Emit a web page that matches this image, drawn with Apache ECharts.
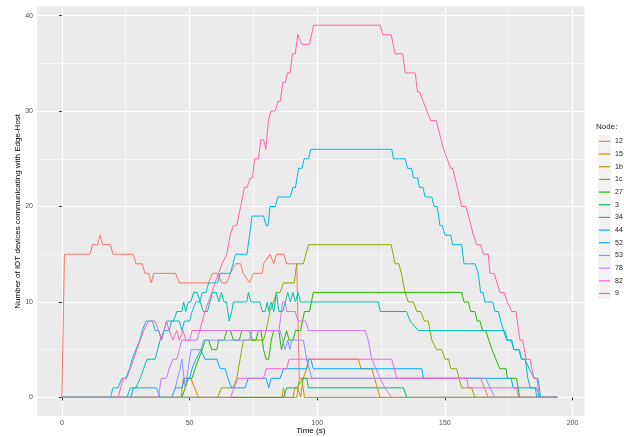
<!DOCTYPE html>
<html>
<head>
<meta charset="utf-8">
<script src="https://cdn.jsdelivr.net/npm/echarts@6/dist/echarts.min.js"></script>
<style>
html, body { margin: 0; padding: 0; background: #fff; }
#chart { width: 624px; height: 437px; }
</style>
</head>
<body>
<div id="chart"></div>
<script>
// node names, in legend order
var nodes = ['12', '15', '1b', '1c', '27', '3', '34', '44', '52', '53', '78', '82', '9'];

// [time (s), devices], one array per node
var node12 = [[0,0],[1,15],[11,15],[12,16],[14,16],[15,17],[16,16],[19,16],[20,15],[28,15],[29,14],[31.5,14],[32.5,13],[34,13],[35,12],[36,13],[44.5,13],[46,12],[57.5,12],[59,13],[61,13],[62.5,12],[64.5,12],[66,13],[68,14],[70,14],[71,13],[73.5,12],[75,13],[78.5,13],[79,14],[81.5,15],[83,14],[84,15],[87,15],[88,14],[92,14],[93,2],[164,2],[167,0],[194,0]];
var node15 = [[0,0],[46.7,0],[47.6,2],[50.5,2],[52,1],[53.5,0],[90.5,0],[91.3,1],[92.5,1],[93.5,0],[94.5,2],[95.9,3],[96.6,4],[116.1,4],[117.2,3],[121.4,3],[124.6,0],[194,0]];
var node1b = [[0,0],[86.2,0],[86.8,1],[87.5,0],[92,0],[93,2],[94,2],[95,0],[194,0]];
var node1c = [[0,0],[61,0],[62.5,1],[67,1],[68.5,2],[69.8,4],[71.1,6],[79,6],[80,7],[81.5,9],[82.9,10],[84.2,11],[85.5,11],[86.8,12],[91,12],[92,14],[94.6,14],[96.6,16],[129,16],[130.5,14],[132,14],[133,13],[134.4,11],[135.7,10],[137.7,10],[139,9],[140.5,9],[142,8],[143.5,8],[144.9,6],[146.8,5],[148.8,5],[150.1,4],[151.5,4],[152.3,3],[154.6,3],[156.6,1],[160.5,1],[161.8,0],[194,0]];
var node27 = [[0,0],[47,0],[48.3,1],[49.6,2],[51,2],[52.2,3],[53.5,4],[55,5],[56.1,6],[57.5,6],[58.7,5],[60.7,5],[61.4,6],[63.5,6],[64.6,7],[66,7],[67.2,6],[69.5,6],[70.5,7],[73.5,7],[74.5,6],[76,6],[77,7],[78,7],[79,5],[80,4],[81,4],[82,6],[83,7],[85,7],[86,5],[87,6],[88,7],[89,6],[90.5,6],[91.5,7],[93.5,7],[95,9],[97,9],[98.5,11],[156.6,11],[157.5,10],[159.2,10],[160.1,9],[161.8,9],[162.7,8],[163.8,8],[164.8,7],[166,7],[168.5,5],[171.5,3],[174,3],[174.5,2],[178.1,2],[179.3,0],[194,0]];
var node3 = [[0,0],[86.8,0],[88.1,1],[92,1],[94.6,2],[95.9,2],[96.6,1],[133.8,1],[135.1,0],[194,0]];
var node34 = [[0,0],[25.5,0],[26.8,1],[29,1],[30.7,2],[32,3],[33.3,4],[36.5,4],[37.5,5],[38.5,6],[40,7],[41,8],[43.7,8],[45,9],[47,9],[47.7,10],[48.5,9],[49.5,10],[50.5,10],[51.6,11],[53,11],[54.2,10],[55.4,9],[57,9],[58,10],[59,11],[60.5,11],[61.5,10],[62.5,11],[63.5,10],[64.5,10],[65.5,8],[66.5,9],[67.2,10],[72.4,10],[73.1,11],[74,10],[77.6,10],[78.5,9],[79.6,9],[80.5,10],[81,9],[82,10],[83,9],[84,11],[85,9],[86.5,9],[87.5,10],[88.5,11],[89.5,10],[90.5,11],[91.5,10],[92.5,11],[93.5,10],[124,10],[124.7,9],[135,9],[136.4,8],[139.6,7],[173.5,7],[174.5,6],[176,6],[177,5],[179,5],[180,4],[181.5,4],[182.5,2],[183.5,1],[186,1],[187,0],[194,0]];
var node44 = [[0,0],[19,0],[20,1],[22,1],[23.5,2],[25,2],[26.5,3],[27.5,4],[29,5],[30.5,6],[31.5,7],[33,8],[35.5,8],[36.5,7],[38,7],[39,6],[40,7],[42,7],[43,8],[46,8],[47,7],[48,8],[50,8],[51,9],[52.5,10],[54,10],[55,11],[56.5,11],[57.5,12],[61,12],[62,13],[66,13],[67,14],[68,15],[72.5,15],[73.5,17],[74.5,19],[79,19],[80,18],[80.8,18],[81.5,20],[83.6,20],[84.6,21],[89.4,21],[90.5,22],[91.5,22],[92.7,24],[94,24],[94.9,25],[96.6,25],[97.5,26],[129.2,26],[129.9,25],[134.5,25],[135.4,24],[137,24],[137.7,23],[139.3,23],[140.1,22],[141.4,22],[142.3,21],[144.9,21],[145.8,20],[147,20],[148.1,18],[149,18],[150.1,17],[152.3,17],[153.1,16],[156.6,16],[157.5,14],[161.8,14],[163.1,13],[164,11],[165,11],[165.7,10],[168.7,10],[169.7,9],[171,9],[171.9,8],[173,7],[174.2,6],[176.2,6],[177.1,5],[179.2,5],[180.1,4],[181.4,4],[183,3],[185,2],[186.5,2],[187.5,0],[194,0]];
var node52 = [[0,0],[27,0],[28,1],[37,1],[38.5,0],[43,0],[44.5,1],[47,1],[48,2],[50,2],[51,3],[52.5,4],[54.5,5],[56,4],[60.7,4],[62,3],[64,3],[65,2],[66.5,1],[71.8,1],[73,2],[80,2],[81,1],[82,2],[85.5,2],[86.8,3],[96,3],[96.6,4],[97.5,4],[98.5,3],[141,3],[141.6,2],[176,2],[176.8,1],[185.5,1],[186,0],[194,0]];
var node53 = [[0,0],[43,0],[44.4,1],[45.3,2],[46.3,3],[47,4],[48.3,1],[49.5,3],[50.5,5],[54.5,5],[55.5,6],[73.5,6],[74.5,7],[85.5,7],[86.5,6],[87.4,5],[88.5,6],[89.3,5],[90,6],[94.6,6],[95.9,4],[97.9,2],[166,2],[169.5,0],[194,0]];
var node78 = [[0,0],[37.8,0],[38.9,2],[41,2],[42,3],[43.5,4],[45,4],[46,5],[47,6],[53,6],[54,7],[85,7],[86.5,10],[87.5,10],[88,9],[91.4,9],[92.5,8],[95.5,8],[96.6,7],[118.8,7],[120,6],[121.4,4],[123,3],[124.7,2],[126.5,1],[129.2,0],[194,0]];
var node82 = [[0,0],[66,0],[67.5,1],[69,2],[79,2],[80,3],[88,3],[89,4],[129.2,4],[131.2,2],[158.6,2],[159.2,1],[178.1,1],[178.8,0],[194,0]];
var node9 = [[0,0],[22,0],[23,1],[24,2],[25.4,2],[26.8,3],[28.1,4],[29.4,5],[30.7,6],[32,7],[34,8],[36.5,8],[37.8,7],[39,6],[40,7],[41,8],[42,7],[43.5,6],[45,7],[46,6],[47.5,7],[48.5,6],[50,6],[51,7],[54,7],[55,8],[56,9],[57.4,10],[58.7,11],[60,12],[61.4,13],[62.7,14],[64.6,15],[65.9,17],[67.2,18],[68.5,18],[70,20],[71.5,22],[72.5,22],[73.8,23],[74.7,23],[75.5,25],[77,25],[77.9,27],[79,27],[79.9,26],[80.9,29],[81.9,30],[83.6,30],[84.6,31],[85.5,31],[86.6,33],[87.5,33],[88.4,34],[89.4,34],[90.3,36],[91.4,36],[92.4,38],[93.1,38],[94,37],[97,37],[98.6,39],[124.7,39],[125.7,38],[129,38],[130.5,36],[133.5,36],[134.5,34],[138.4,34],[139.3,32],[140.1,32],[143,30],[143.6,30],[144.5,29],[146.6,29],[149.5,26],[150.1,26],[152.3,24],[153.1,24],[156.6,20],[158.3,20],[161.2,17],[162.5,16],[164,16],[165.1,15],[167,15],[167.7,13],[169.3,13],[171.6,11],[173.2,11],[174.5,10],[176.2,9],[177.9,9],[179.4,6],[180.5,6],[181.8,4],[183.4,4],[184.9,2],[186,2],[187.3,0],[194,0]];

var nodeData = [node12, node15, node1b, node1c, node27, node3, node34, node44, node52, node53, node78, node82, node9];

// tick labels
var xTicks = [0, 50, 100, 150, 200];
var xMinor = [25, 75, 125, 175];
var yTicks = [0, 10, 20, 30, 40];
var yMinor = [5, 15, 25, 35];

// ggplot hue palette for 13 groups
var colors = ['#F8766D','#E18A00','#BE9C00','#8CAB00','#24B700','#00BE70','#00C1AB','#00BBDA','#00ACFC','#8B93FF','#D575FE','#F962DD','#FF65AC'];

var myChart = echarts.init(document.getElementById('chart'));

var series = [];
for (var i = 0; i < nodes.length; i++) {
	series.push({
		name: nodes[i],
		type: 'line',
		data: nodeData[i],
		symbol: 'none',
		lineStyle: { width: 1, color: colors[i] },
		itemStyle: { color: colors[i] },
		xAxisIndex: 0,
		yAxisIndex: 0
	});
}

var tickLabel = { fontFamily: 'Liberation Sans', fontSize: 7, color: '#4D4D4D' };

option = {
	animation: false,
	textStyle: { fontFamily: 'Liberation Sans' },
	grid: {
		left: 37, right: 39.4, top: 6.6, bottom: 21,
		outerBoundsMode: 'none',
		show: true, backgroundColor: '#EBEBEB', borderWidth: 0
	},
	title: {
		text: 'Node:',
		left: 596, top: 123, padding: 0,
		textStyle: { fontSize: 8, fontWeight: 'normal', color: '#1A1A1A', fontFamily: 'Liberation Sans' }
	},
	legend: {
		data: nodes,
		orient: 'vertical',
		left: 599, top: 135, padding: 0,
		width: 25,
		icon: 'rect',
		itemWidth: 11, itemHeight: 1.2, itemGap: 0,
		textStyle: { fontSize: 7, lineHeight: 12.68, color: '#1A1A1A', fontFamily: 'Liberation Sans', overflow: 'none' },
		selectedMode: false
	},
	graphic: [{
		type: 'rect', left: 598, top: 135, z: -1,
		shape: { width: 13, height: 164 },
		style: { fill: '#F2F2F2' }
	}],
	xAxis: [{
		type: 'value', min: -9.75, max: 204.75,
		name: 'Time (s)', nameLocation: 'middle', nameGap: 11, nameMoveOverlap: false,
		nameTextStyle: { fontSize: 8, color: '#000', fontFamily: 'Liberation Sans' },
		axisLine: { show: false },
		axisTick: { show: true, length: 3, lineStyle: { color: '#333' }, customValues: xTicks },
		axisLabel: Object.assign({ margin: 4, customValues: xTicks }, tickLabel),
		splitLine: { show: true, lineStyle: { color: '#fff', width: 1.1 } }
	}, {
		type: 'value', min: -9.75, max: 204.75, gridIndex: 0,
		axisLine: { show: false },
		axisTick: { show: false, customValues: xMinor },
		axisLabel: { show: false, customValues: xMinor },
		splitLine: { show: true, lineStyle: { color: '#fff', width: 0.55 } }
	}],
	yAxis: [{
		type: 'value', min: -1.95, max: 40.95,
		name: 'Number of IOT devices communicating with Edge-Host',
		nameLocation: 'middle', nameGap: 15, nameMoveOverlap: false,
		nameTextStyle: { fontSize: 8, color: '#000', fontFamily: 'Liberation Sans' },
		axisLine: { show: false },
		axisTick: { show: true, length: 3, lineStyle: { color: '#333' }, customValues: yTicks },
		axisLabel: Object.assign({ margin: 4, customValues: yTicks }, tickLabel),
		splitLine: { show: true, lineStyle: { color: '#fff', width: 1.1 } }
	}, {
		type: 'value', min: -1.95, max: 40.95, gridIndex: 0,
		axisLine: { show: false },
		axisTick: { show: false, customValues: yMinor },
		axisLabel: { show: false, customValues: yMinor },
		splitLine: { show: true, lineStyle: { color: '#fff', width: 0.55 } }
	}],
	series: series
};

myChart.setOption(option);
</script>
</body>
</html>
